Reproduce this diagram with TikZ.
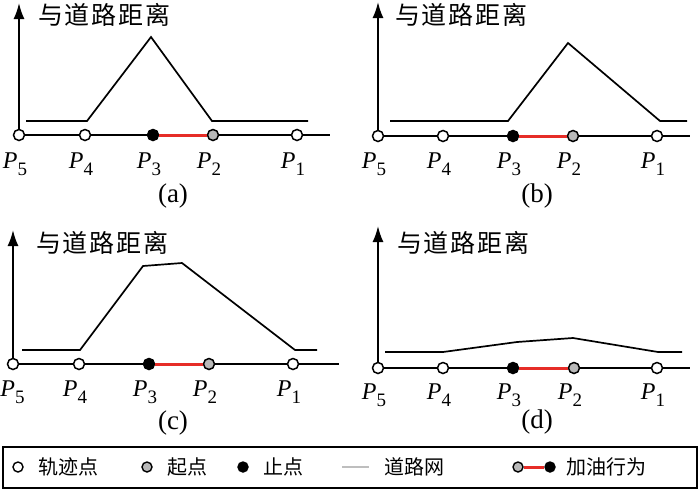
\documentclass[tikz,border=0pt]{standalone}
\usepackage{fontspec}
\setmainfont{Liberation Serif}
\newfontfamily\cjk[LetterSpace=7]{Noto Sans CJK SC}
\newfontfamily\cjkleg{Noto Sans CJK SC}
\usetikzlibrary{arrows.meta}
\newcommand\Plab[1]{{\itshape P}\raisebox{-0.3em}{\fontsize{19}{19}\selectfont #1}}
\definecolor{fuelred}{RGB}{230,45,40}
\definecolor{ptgray}{RGB}{185,185,185}
\definecolor{roadgray}{RGB}{190,190,190}
\begin{document}
\begin{tikzpicture}[x=1pt,y=-1pt,
  axisline/.style={line width=1.8pt,black},
  yaxis/.style={line width=1.8pt,black,-{Latex[length=16pt,width=11pt]}},
  curveline/.style={line width=1.7pt,black,line join=miter},
  fuelline/.style={line width=3pt,fuelred},
  trk/.style={circle,draw=black,line width=1.5pt,fill=white,inner sep=0pt,minimum size=11pt},
  startpt/.style={trk,fill=ptgray},
  stoppt/.style={trk,fill=black},
  ptlabel/.style={font=\fontsize{24}{24}\selectfont,inner sep=0pt},
  title/.style={font=\cjk\fontsize{25}{25}\selectfont,inner sep=0pt,anchor=west},
  caption/.style={font=\fontsize{27}{27}\selectfont,inner sep=0pt},
  legtext/.style={font=\cjkleg\fontsize{20}{20}\selectfont,inner sep=0pt,anchor=west},
  legpt/.style={trk,minimum size=10pt,line width=1.4pt}
]
\useasboundingbox (0,0) rectangle (700,490);

% ---------- panel (a) ----------
\node[trk] (a5) at (19,135) {};
\node[trk] (a4) at (85,135) {};
\node[stoppt] (a3) at (153,135) {};
\node[startpt] (a2) at (213,135) {};
\node[trk] (a1) at (297,135) {};
\coordinate (aend) at (330,135);
\coordinate (atop) at (19,3);
\draw[axisline] (a5) -- (a4);
\draw[axisline] (a4) -- (a3);
\draw[fuelline] (a3) -- (a2);
\draw[axisline] (a2) -- (a1);
\draw[axisline] (a1) -- (aend);
\draw[yaxis] (a5.north) -- (atop);
\draw[curveline] (26,121) -- (87,121) -- (151,37) -- (212,121) -- (308,121);
\node[title] (at) at (38,15) {与道路距离};
\node[ptlabel] (al5) at (15,164) {\Plab{5}};
\node[ptlabel] (al4) at (81,164) {\Plab{4}};
\node[ptlabel] (al3) at (149,164) {\Plab{3}};
\node[ptlabel] (al2) at (209,164) {\Plab{2}};
\node[ptlabel] (al1) at (293,164) {\Plab{1}};
\node[caption] (acap) at (173,196) {(a)};

% ---------- panel (b) ----------
\node[trk] (b5) at (378,136) {};
\node[trk] (b4) at (443,136) {};
\node[stoppt] (b3) at (513,136) {};
\node[startpt] (b2) at (573,136) {};
\node[trk] (b1) at (657,136) {};
\coordinate (bend) at (690,136);
\coordinate (btop) at (378,2);
\draw[axisline] (b5) -- (b4);
\draw[axisline] (b4) -- (b3);
\draw[fuelline] (b3) -- (b2);
\draw[axisline] (b2) -- (b1);
\draw[axisline] (b1) -- (bend);
\draw[yaxis] (b5.north) -- (btop);
\draw[curveline] (390,121) -- (508,121) -- (568,43) -- (660,121) -- (687,121);
\node[title] (bt) at (395,15) {与道路距离};
\node[ptlabel] (bl5) at (374,164) {\Plab{5}};
\node[ptlabel] (bl4) at (439,164) {\Plab{4}};
\node[ptlabel] (bl3) at (509,164) {\Plab{3}};
\node[ptlabel] (bl2) at (569,164) {\Plab{2}};
\node[ptlabel] (bl1) at (653,164) {\Plab{1}};
\node[caption] (bcap) at (537,196) {(b)};

% ---------- panel (c) ----------
\node[trk] (c5) at (13,364) {};
\node[trk] (c4) at (79,364) {};
\node[stoppt] (c3) at (149,364) {};
\node[startpt] (c2) at (209,364) {};
\node[trk] (c1) at (293,364) {};
\coordinate (cend) at (339,364);
\coordinate (ctop) at (13,230);
\draw[axisline] (c5) -- (c4);
\draw[axisline] (c4) -- (c3);
\draw[fuelline] (c3) -- (c2);
\draw[axisline] (c2) -- (c1);
\draw[axisline] (c1) -- (cend);
\draw[yaxis] (c5.north) -- (ctop);
\draw[curveline] (22,350) -- (80,350) -- (143,266) -- (182,263) -- (295,350) -- (317,350);
\node[title] (ct) at (36,243) {与道路距离};
\node[ptlabel] (cl5) at (12.5,392) {\Plab{5}};
\node[ptlabel] (cl4) at (75,392) {\Plab{4}};
\node[ptlabel] (cl3) at (145,392) {\Plab{3}};
\node[ptlabel] (cl2) at (205,392) {\Plab{2}};
\node[ptlabel] (cl1) at (289,392) {\Plab{1}};
\node[caption] (ccap) at (173,423) {(c)};

% ---------- panel (d) ----------
\node[trk] (d5) at (378,368) {};
\node[trk] (d4) at (443,368) {};
\node[stoppt] (d3) at (513,368) {};
\node[startpt] (d2) at (574,368) {};
\node[trk] (d1) at (657,368) {};
\coordinate (dend) at (690,368);
\coordinate (dtop) at (378,226);
\draw[axisline] (d5) -- (d4);
\draw[axisline] (d4) -- (d3);
\draw[fuelline] (d3) -- (d2);
\draw[axisline] (d2) -- (d1);
\draw[axisline] (d1) -- (dend);
\draw[yaxis] (d5.north) -- (dtop);
\draw[curveline] (385,352) -- (443,352) -- (517,342) -- (573,338) -- (658,352) -- (682,352);
\node[title] (dt) at (397,243) {与道路距离};
\node[ptlabel] (dl5) at (374,395) {\Plab{5}};
\node[ptlabel] (dl4) at (439,395) {\Plab{4}};
\node[ptlabel] (dl3) at (509,395) {\Plab{3}};
\node[ptlabel] (dl2) at (570,395) {\Plab{2}};
\node[ptlabel] (dl1) at (653,395) {\Plab{1}};
\node[caption] (dcap) at (537,422) {(d)};

% ---------- legend ----------
\node[draw=black,line width=1.4pt,minimum width=694pt,minimum height=41pt,inner sep=0pt] (leg) at (350,467.5) {};
\node[legpt] (l1) at (18,467) {};
\node[legtext] (l1t) at (38,467) {轨迹点};
\node[legpt,fill=ptgray] (l2) at (147,467) {};
\node[legtext] (l2t) at (167,467) {起点};
\node[legpt,fill=black] (l3) at (243,467) {};
\node[legtext] (l3t) at (263,467) {止点};
\coordinate (l4a) at (342,467);
\coordinate (l4b) at (369,467);
\draw[line width=1.5pt,roadgray] (l4a) -- (l4b);
\node[legtext] (l4t) at (384,467) {道路网};
\node[legpt,fill=ptgray] (l5a) at (518,467) {};
\node[legpt,fill=black] (l5b) at (550,467) {};
\draw[fuelline] (l5a) -- (l5b);
\node[legtext] (l5t) at (566,467) {加油行为};
\end{tikzpicture}
\end{document}
